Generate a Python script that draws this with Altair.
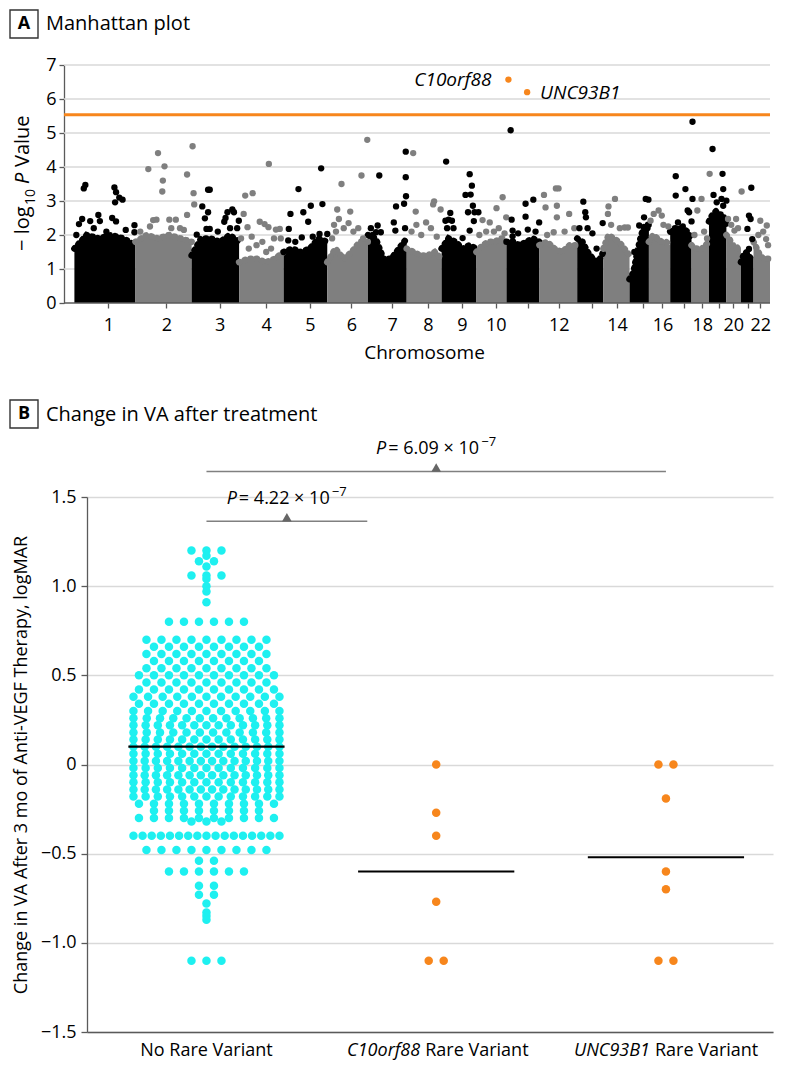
import altair as alt
import pandas as pd

FONT = "Open Sans"
BLACK = "#000000"
GREY = "#7F7F7F"
ORANGE = "#F7861C"
CYAN = "#1EF0F0"
GRIDC = "#D9D9D9"
AXISC = "#5A5A5A"

# ===================== Panel A data (Manhattan plot) =====================
chrom_names = [str(i) for i in range(1, 23)]
chrom_start = [10, 73, 131, 180, 226, 271, 313, 353, 389, 425, 456, 490, 529, 556, 583, 603, 625, 647, 665, 683, 698, 711]
chrom_end = [73, 131, 180, 226, 271, 313, 353, 389, 425, 456, 490, 529, 556, 583, 603, 625, 647, 665, 683, 698, 711, 728]
chrom_tick = [45, 105, 160, 208, 253, 296, 338, 375, 410, 445, 478, 510, 544, 570, 597, 617, 639, 658, 675, 690, 705, 718]
chrom_tick_label = ["1", "2", "3", "4", "5", "6", "7", "8", "9", "10", "", "12", "", "14", "", "16", "", "18", "", "20", "", "22"]

# height of the dense (solid) cloud of SNPs across each chromosome
env_frac = [0.0, 0.2, 0.4, 0.6, 0.8, 1.0]
env_height = [
    [1.6, 2.0, 1.9, 2.0, 1.9, 1.7],
    [1.8, 2.0, 1.9, 2.0, 1.9, 1.8],
    [1.4, 1.9, 1.9, 1.8, 2.0, 1.8],
    [1.2, 1.3, 1.3, 1.2, 1.3, 1.5],
    [1.5, 1.6, 1.5, 1.6, 1.9, 1.8],
    [1.2, 1.6, 1.3, 1.5, 1.8, 1.8],
    [2.0, 1.9, 1.3, 1.3, 1.6, 1.9],
    [1.6, 1.5, 1.4, 1.4, 1.5, 1.3],
    [1.6, 1.9, 1.8, 1.6, 1.7, 1.6],
    [1.5, 1.7, 1.8, 1.8, 1.9, 1.9],
    [1.8, 1.8, 1.7, 1.8, 1.9, 1.8],
    [1.7, 1.8, 1.6, 1.5, 1.7, 1.7],
    [1.9, 1.8, 1.5, 1.3, 1.2, 1.5],
    [1.6, 2.0, 1.9, 1.8, 1.6, 1.4],
    [0.7, 0.9, 1.5, 2.0, 2.3, 2.3],
    [1.8, 2.0, 1.9, 1.8, 1.8, 1.7],
    [2.1, 2.2, 2.2, 2.2, 2.1, 1.9],
    [1.7, 1.6, 1.6, 1.6, 1.7, 1.8],
    [2.4, 2.6, 2.7, 2.6, 2.6, 2.3],
    [2.0, 1.9, 1.7, 1.7, 1.6, 1.6],
    [1.2, 1.4, 1.5, 1.4, 1.3, 1.3],
    [1.8, 1.6, 1.4, 1.3, 1.3, 1.3],
]

# individual SNPs standing above the dense cloud, per chromosome
snp_pos_by_chrom = [
    [19.7, 21.3, 51.3, 53, 56.3, 59.7, 52, 34.7, 26.3, 18, 14.7, 36.3, 49, 72, 72, 12, 30, 43, 63, 53],
    [86.3, 96.3, 103, 101.3, 100.7, 126.3, 132, 133, 133.7, 94.7, 91.3, 108, 114.7, 126.3, 78, 88, 119, 123, 110],
    [148, 149.7, 136.3, 142, 144.7, 148, 146.3, 149.7, 168, 173, 174.7, 179.7, 164.7, 170.7, 178, 158, 166],
    [210.7, 186.3, 194, 184.7, 188.7, 201.3, 206.3, 210.3, 218, 222, 182, 193, 198, 204, 213, 223, 190, 208, 216],
    [241.3, 264.7, 254, 246.3, 233, 231.3, 230.7, 244.7, 251.3, 266, 271, 263, 256, 238],
    [312.3, 306.3, 285.7, 281.3, 294.7, 283, 278, 288, 293, 280, 298, 303, 308, 276],
    [324.7, 352, 352, 342, 350.3, 352.3, 339.7, 341.3, 351.3, 323, 321.3, 326.3, 316, 318],
    [359.7, 362.3, 381.3, 380.3, 388, 363, 373, 368, 358, 378, 384],
    [393.7, 418, 420.3, 413.7, 419, 421.3, 416.3, 423, 427, 422.3, 418, 410.7, 393, 396.3, 399.7, 401.3, 394.7, 398],
    [445.7, 452, 431.3, 438.7, 455.7, 428, 435, 443, 448, 454],
    [460.3, 461.3, 475.7, 483.7, 475.7, 489.7, 478, 462.3, 462.3, 468, 486],
    [494.7, 507, 509.7, 508, 496.3, 508, 520.7, 504.7, 516, 526, 498],
    [535.3, 537.3, 538, 531.3, 539.7, 544.7, 555.3, 549],
    [568, 561.3, 560.7, 573, 578, 581.3, 564],
    [599.7, 602.5, 598, 593, 601.5, 588, 595],
    [613, 608, 616.3, 623, 604.7, 618],
    [630.7, 630.7, 640.7, 643, 644.5, 633, 638, 648, 648, 647],
    [657.3, 653, 665.7, 650, 660, 663],
    [668.7, 679, 669.7, 679.7, 678, 683, 673, 679.7],
    [698.7, 684.7, 693, 691.3, 688, 695],
    [708.7, 706.3, 708, 704.7, 709.7, 706.3],
    [718, 724.7, 724, 716, 721, 726],
]
snp_logp_by_chrom = [
    [3.37, 3.47, 3.40, 3.26, 3.10, 3.04, 2.96, 2.59, 2.41, 2.47, 2.32, 2.41, 2.50, 2.29, 2.08, 2.0, 2.2, 2.1, 2.15, 2.40],
    [3.94, 4.41, 4.02, 3.60, 3.28, 3.78, 4.61, 3.23, 2.90, 2.45, 2.44, 2.45, 2.45, 2.59, 2.1, 2.25, 2.2, 2.15, 2.2],
    [3.33, 3.33, 2.01, 2.84, 2.49, 2.67, 2.18, 2.18, 2.67, 2.75, 2.67, 2.42, 2.39, 2.20, 2.20, 2.1, 2.5],
    [4.09, 3.16, 3.23, 2.62, 2.23, 2.39, 2.32, 2.23, 2.16, 2.18, 1.9, 1.95, 1.7, 1.8, 1.6, 1.9, 1.6, 1.5, 1.9],
    [3.35, 3.96, 2.86, 2.67, 2.62, 2.18, 1.84, 1.93, 2.39, 2.91, 2.03, 2.03, 1.95, 1.8],
    [4.80, 3.75, 3.50, 2.75, 2.69, 2.47, 2.3, 2.2, 2.35, 2.1, 2.1, 2.2, 1.9, 1.9],
    [3.75, 3.70, 4.45, 2.84, 2.92, 3.14, 2.37, 2.13, 2.20, 2.28, 2.08, 2.08, 2.2, 2.0],
    [4.41, 2.69, 2.99, 2.90, 2.75, 2.3, 2.37, 2.0, 2.1, 2.2, 1.95],
    [4.16, 3.79, 3.45, 3.18, 3.19, 2.86, 2.67, 2.67, 2.67, 2.41, 2.13, 1.91, 2.42, 2.45, 2.42, 2.2, 2.2, 2.65],
    [2.79, 3.11, 2.44, 2.37, 2.52, 2.0, 2.1, 2.1, 2.2, 2.05],
    [5.08, 2.45, 2.92, 3.04, 2.54, 2.37, 2.16, 2.13, 1.96, 2.05, 2.1],
    [3.18, 3.37, 3.37, 2.86, 2.81, 2.52, 2.62, 2.08, 2.1, 2.2, 2.0],
    [2.98, 2.67, 2.52, 2.2, 2.2, 2.05, 2.35, 1.6],
    [3.06, 2.84, 2.62, 2.2, 2.22, 2.22, 2.3],
    [3.06, 3.04, 2.52, 2.28, 2.2, 1.5, 1.9],
    [2.72, 2.62, 2.57, 2.25, 2.42, 2.3],
    [3.73, 3.16, 3.35, 2.72, 2.67, 2.37, 2.25, 5.33, 3.06, 2.4],
    [3.06, 2.72, 3.8, 2.0, 2.1, 1.9],
    [4.53, 3.8, 3.18, 3.35, 3.06, 3.01, 2.96, 2.86],
    [3.28, 2.47, 2.47, 2.13, 2.3, 2.2],
    [3.39, 2.57, 2.47, 2.18, 1.88, 1.59],
    [2.42, 2.28, 1.88, 2.0, 2.1, 1.7],
]

hit_genes = ["C10orf88", "UNC93B1"]
hit_pos = [458, 477.3]
hit_logp = [6.57, 6.20]
threshold = 5.54
gridA_values = [1, 2, 3, 4, 5, 6, 7]

# ===================== Panel B data (change in VA) =====================
groups = ["No Rare Variant", "C10orf88 Rare Variant", "UNC93B1 Rare Variant"]
group_gene = ["", "C10orf88", "UNC93B1"]
group_center = [0.5, 1.5, 2.5]
nrv_row_values = [1.20, 1.17, 1.14, 1.11, 1.06, 1.04, 1.00, 0.97, 0.91, 0.80,
                  0.70, 0.66, 0.62, 0.58, 0.54, 0.50, 0.46, 0.42, 0.38, 0.34,
                  0.30, 0.26, 0.22, 0.18, 0.14, 0.10, 0.06, 0.02, -0.02, -0.06,
                  -0.10, -0.14, -0.18, -0.22, -0.26, -0.30, -0.32, -0.40, -0.48, -0.54,
                  -0.60, -0.68, -0.73, -0.78, -0.83, -0.85, -0.87, -1.10]
nrv_row_counts = [3, 1, 2, 1, 3, 1, 1, 1, 1, 6,
                  9, 8, 9, 8, 9, 10, 9, 10, 11, 10,
                  11, 12, 13, 12, 13, 14, 13, 14, 13, 14,
                  13, 14, 13, 10, 8, 10, 3, 17, 9, 2,
                  6, 2, 2, 1, 1, 1, 1, 3]
c10_values = [0.0, -0.27, -0.40, -0.77, -1.10, -1.10]
unc_values = [0.0, 0.0, -0.19, -0.60, -0.70, -1.10, -1.10]
group_mean = [0.10, -0.60, -0.52]
p_mantissa = ["4.22", "6.09"]
p_exponent = "\u22127"
bracket_x1 = [0.5, 0.5]
bracket_x2 = [1.2, 2.5]
bracket_y = [1.364, 1.643]
bracket_mid = [0.85, 1.5]

# ===================== Panel A chart =====================
# plot area aligned with panel B (x=85); the y axis is pushed 23px further left
LEFT_EXT = 23
WA, HA = 683, 238
xA_scale = alt.Scale(domain=[23, 728], nice=False, zero=False)
yA_scale = alt.Scale(domain=[0, 7], nice=False, zero=False)

label_expr = ("[" + ",".join("'%s'" % s for s in chrom_tick_label) + "][indexof(["
              + ",".join(str(t) for t in chrom_tick) + "], datum.value)]")

axis_xA = alt.Axis(values=chrom_tick, labelExpr=label_expr, title="Chromosome",
                   titleFont=FONT, titleFontSize=19, titleFontWeight="normal", titleColor="#000",
                   titleY=40, titleX=337,
                   labelFont=FONT, labelFontSize=18, labelColor="#000", labelPadding=8,
                   labelOverlap=False, labelFlush=False,
                   tickSize=5, tickColor=AXISC, tickWidth=1.3, domain=False, grid=False)
axis_yA = alt.Axis(values=list(range(8)), title=None, labelFont=FONT, labelFontSize=18,
                   labelColor="#000", labelPadding=3, tickSize=5, tickColor=AXISC, tickWidth=1.3,
                   domainColor=AXISC, domainWidth=1.3, grid=False, offset=LEFT_EXT,
                   labelFlush=False)


def xA(field):
    return alt.X(field, type="quantitative", scale=xA_scale, axis=axis_xA)


def yA(field):
    return alt.Y(field, type="quantitative", scale=yA_scale, axis=axis_yA, stack=False)


env_rows = []
for i, name in enumerate(chrom_names):
    for f, h in zip(env_frac, env_height[i]):
        env_rows.append({"chrom": name,
                         "pos": chrom_start[i] + f * (chrom_end[i] - chrom_start[i]),
                         "logp": h, "shade": BLACK if i % 2 == 0 else GREY})
env_df = pd.DataFrame(env_rows)

snp_rows = []
for i, name in enumerate(chrom_names):
    for p, lp in zip(snp_pos_by_chrom[i], snp_logp_by_chrom[i]):
        snp_rows.append({"chrom": name, "pos": p, "logp": lp, "shade": BLACK if i % 2 == 0 else GREY})
snp_df = pd.DataFrame(snp_rows)

hit_df = pd.DataFrame({"gene": hit_genes, "pos": hit_pos, "logp": hit_logp})
ONE = pd.DataFrame({"k": [0]})

gridA = alt.Chart(pd.DataFrame({"logp": gridA_values})).mark_rule(color=GRIDC, strokeWidth=1.3).encode(
    y=yA("logp"), x=alt.value(-LEFT_EXT), x2=alt.value(WA))
baseA = alt.Chart(pd.DataFrame({"logp": [0]})).mark_rule(color=AXISC, strokeWidth=1.3).encode(
    y=yA("logp"), x=alt.value(-LEFT_EXT), x2=alt.value(WA))
area = alt.Chart(env_df).mark_area(interpolate="linear", opacity=1).encode(
    x=xA("pos"), y=yA("logp"), detail="chrom:N", color=alt.Color("shade:N", scale=None))
edge = alt.Chart(env_df).mark_line(interpolate="linear", strokeWidth=6.5, strokeCap="round",
                                   strokeDash=[0.5, 5.5], opacity=1).encode(
    x=xA("pos"), y=yA("logp"), detail="chrom:N", color=alt.Color("shade:N", scale=None))
pts = alt.Chart(snp_df).mark_circle(size=40, opacity=1).encode(
    x=xA("pos"), y=yA("logp"), color=alt.Color("shade:N", scale=None))
thr = alt.Chart(pd.DataFrame({"logp": [threshold]})).mark_rule(color=ORANGE, strokeWidth=3).encode(
    y=yA("logp"), x=alt.value(-LEFT_EXT), x2=alt.value(WA))
hits = alt.Chart(hit_df).mark_circle(size=40, opacity=1, color=ORANGE).encode(x=xA("pos"), y=yA("logp"))
hit_lab1 = alt.Chart(hit_df.iloc[[0]]).mark_text(font=FONT, fontSize=19, fontStyle="italic", align="right",
                                                baseline="alphabetic", dx=-17, dy=6, color="#000").encode(
    x=xA("pos"), y=yA("logp"), text="gene:N")
hit_lab2 = alt.Chart(hit_df.iloc[[1]]).mark_text(font=FONT, fontSize=19, fontStyle="italic", align="left",
                                                baseline="alphabetic", dx=13, dy=7, color="#000").encode(
    x=xA("pos"), y=yA("logp"), text="gene:N")

boxA = alt.Chart(ONE).mark_rect(fill="white", stroke="#333333", strokeWidth=1.4).encode(
    x=alt.value(-77), x2=alt.value(-49), y=alt.value(-55), y2=alt.value(-27))
letA = alt.Chart(ONE).mark_text(text="A", font=FONT, fontSize=18, fontWeight="bold", align="center",
                                baseline="middle", color="#000").encode(x=alt.value(-63), y=alt.value(-41))
titA = alt.Chart(ONE).mark_text(text="Manhattan plot", font=FONT, fontSize=20, align="left",
                                baseline="alphabetic", color="#000").encode(x=alt.value(-41), y=alt.value(-35))

ystart = HA / 2 + 67
YTX = -58
yt_common = dict(font=FONT, angle=270, align="left", baseline="alphabetic", color="#000")
yt1 = alt.Chart(ONE).mark_text(text="\u2212 log", fontSize=20, **yt_common).encode(
    x=alt.value(YTX), y=alt.value(ystart))
yt2 = alt.Chart(ONE).mark_text(text="10", fontSize=14, dx=46, dy=6, **yt_common).encode(
    x=alt.value(YTX), y=alt.value(ystart))
yt3 = alt.Chart(ONE).mark_text(text="P", fontSize=20, fontStyle="italic", dx=67, **yt_common).encode(
    x=alt.value(YTX), y=alt.value(ystart))
yt4 = alt.Chart(ONE).mark_text(text="Value", fontSize=20, dx=84, **yt_common).encode(
    x=alt.value(YTX), y=alt.value(ystart))

panelA = alt.layer(gridA, area, edge, baseA, pts, thr, hits, hit_lab1, hit_lab2, boxA, letA, titA,
                   yt1, yt2, yt3, yt4).properties(width=WA, height=HA)

# ===================== Panel B chart =====================
WB, HB = 686, 535
XDOM = [-0.02, 2.966]
PXU = WB / (XDOM[1] - XDOM[0])
xB_scale = alt.Scale(domain=XDOM, nice=False, zero=False)
yB_scale = alt.Scale(domain=[-1.5, 1.5], nice=False, zero=False)

axis_xB = alt.Axis(title=None, labels=False, ticks=False, grid=False, domainColor=AXISC, domainWidth=1.3)
axis_yB = alt.Axis(values=[-1.5, -1.0, -0.5, 0.0, 0.5, 1.0, 1.5],
                   labelExpr="datum.value == 0 ? '0' : replace(format(datum.value, '.1f'), '-', '\u2212')",
                   title="Change in VA After 3 mo of Anti-VEGF Therapy, logMAR",
                   titleFont=FONT, titleFontSize=18, titleFontWeight="normal", titleColor="#000",
                   titleAngle=270, titleAlign="center", titleBaseline="bottom", titleX=-57, titleY=HB / 2,
                   labelFont=FONT, labelFontSize=18, labelColor="#000", labelPadding=5,
                   tickSize=6, tickColor=AXISC, tickWidth=1.3, domainColor=AXISC, domainWidth=1.3,
                   grid=True, gridColor=GRIDC, gridWidth=1.3, labelFlush=False)


def xB(field):
    return alt.X(field, type="quantitative", scale=xB_scale, axis=axis_xB)


def yB(field):
    return alt.Y(field, type="quantitative", scale=yB_scale, axis=axis_yB)


def row_layout(values, spacing=15.0, maxw=146.0):
    counts = {}
    for v in values:
        counts[v] = counts.get(v, 0) + 1
    seen = {}
    offs = []
    for v in values:
        n = counts[v]
        k = seen.get(v, 0)
        seen[v] = k + 1
        s = spacing if n == 1 else min(spacing, maxw / (n - 1))
        offs.append((k - (n - 1) / 2.0) * s)
    return offs


nrv_values = []
for v, c in zip(nrv_row_values, nrv_row_counts):
    nrv_values += [v] * c

rowsB = []
for gi, vals, col in [(0, nrv_values, CYAN), (1, c10_values, ORANGE), (2, unc_values, ORANGE)]:
    for v, o in zip(vals, row_layout(vals)):
        rowsB.append({"group": groups[gi], "v": v, "xpos": group_center[gi] + o / PXU, "col": col})
ptsB_df = pd.DataFrame(rowsB)

mean_df = pd.DataFrame({"group": groups, "mean": group_mean,
                        "x1": [c - 0.34 for c in group_center], "x2": [c + 0.34 for c in group_center]})
br_df = pd.DataFrame({"x1": bracket_x1, "x2": bracket_x2, "y": bracket_y, "mid": bracket_mid,
                      "tri": [y + 0.022 for y in bracket_y], "ty": [y + 0.099 for y in bracket_y],
                      "mant": ["= %s \u00d7 10" % m for m in p_mantissa]})
cat_df = pd.DataFrame({"pos": group_center, "gene": group_gene,
                       "rest": ["No Rare Variant", "Rare Variant", "Rare Variant"]})

ptsB = alt.Chart(ptsB_df).mark_circle(size=72, opacity=1).encode(
    x=xB("xpos"), y=yB("v"), color=alt.Color("col:N", scale=None))
means = alt.Chart(mean_df).mark_rule(color="#000", strokeWidth=2.2).encode(
    x=xB("x1"), x2="x2", y=yB("mean"))
brackets = alt.Chart(br_df).mark_rule(color="#808080", strokeWidth=1.3).encode(
    x=xB("x1"), x2="x2", y=yB("y"))
tris = alt.Chart(br_df).mark_point(shape="triangle-up", filled=True, size=95, color="#666666", opacity=1).encode(
    x=xB("mid"), y=yB("tri"))
pt_common = dict(font=FONT, baseline="alphabetic", color="#000")
pP = alt.Chart(br_df).mark_text(text="P", fontSize=18, fontStyle="italic", align="right", dx=-50, **pt_common).encode(
    x=xB("mid"), y=yB("ty"))
pM = alt.Chart(br_df).mark_text(fontSize=18, align="left", dx=-48, **pt_common).encode(
    x=xB("mid"), y=yB("ty"), text="mant:N")
pE = alt.Chart(br_df).mark_text(text=p_exponent, fontSize=13, align="left", dx=45, dy=-8, **pt_common).encode(
    x=xB("mid"), y=yB("ty"))

LABY = HB + 24
cat0 = alt.Chart(cat_df.iloc[[0]]).mark_text(fontSize=18, align="center", **pt_common).encode(
    x=xB("pos"), y=alt.value(LABY), text="rest:N")
catG = alt.Chart(cat_df.iloc[[1, 2]]).mark_text(fontSize=18, fontStyle="italic", align="right", dx=-16,
                                                **pt_common).encode(
    x=xB("pos"), y=alt.value(LABY), text="gene:N")
catR = alt.Chart(cat_df.iloc[[1, 2]]).mark_text(fontSize=18, align="left", dx=-11, **pt_common).encode(
    x=xB("pos"), y=alt.value(LABY), text="rest:N")

boxB = alt.Chart(ONE).mark_rect(fill="white", stroke="#333333", strokeWidth=1.4).encode(
    x=alt.value(-77), x2=alt.value(-49), y=alt.value(-97), y2=alt.value(-69))
letB = alt.Chart(ONE).mark_text(text="B", font=FONT, fontSize=18, fontWeight="bold", align="center",
                                baseline="middle", color="#000").encode(x=alt.value(-63), y=alt.value(-83))
titB = alt.Chart(ONE).mark_text(text="Change in VA after treatment", font=FONT, fontSize=20, align="left",
                                baseline="alphabetic", color="#000").encode(x=alt.value(-41), y=alt.value(-76))

panelB = alt.layer(ptsB, means, brackets, tris, pP, pM, pE, cat0, catG, catR, boxB, letB, titB).properties(
    width=WB, height=HB)

chart = alt.vconcat(panelA, panelB, spacing=35).properties(padding=0).configure_view(stroke="transparent")

chart.save("out.html", embed_options={"renderer": "svg", "actions": False})
